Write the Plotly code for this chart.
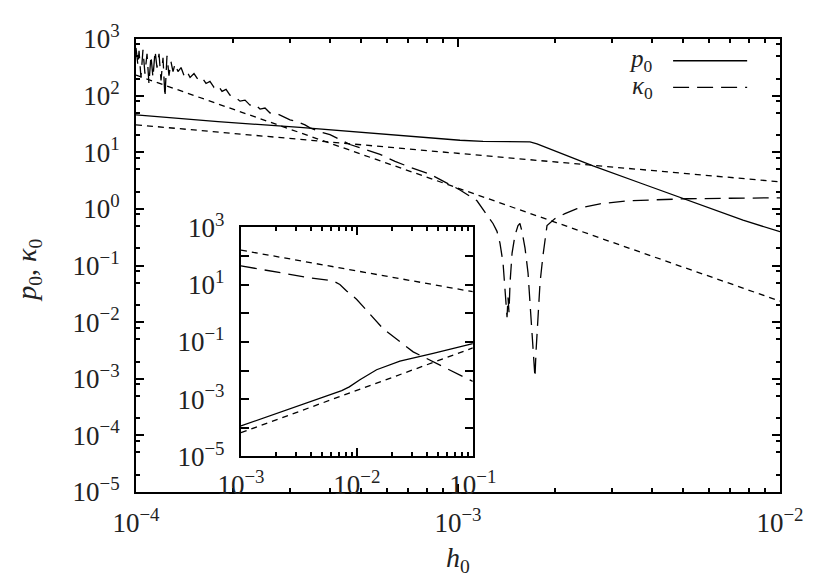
import plotly.graph_objects as go

# main panel: p0 (solid) and kappa0 (long dash) against h0
h_p0 = [1.0e-4, 1.798e-4, 3.231e-4, 7.095e-4, 1.0144e-3, 1.196e-3, 1.673e-3,
        1.759e-3, 2.074e-3, 2.626e-3, 3.754e-3, 5.143e-3, 7.675e-3, 1.0e-2]
p0 = [45.6, 34.6, 27.6, 19.1, 16.3, 15.6, 15.2,
      14.1, 9.80, 5.73, 2.75, 1.45, 0.631, 0.396]

h_kappa = [1.000e-4, 1.014e-4, 1.022e-4, 1.036e-4, 1.051e-4, 1.066e-4, 1.082e-4,
           1.097e-4, 1.113e-4, 1.129e-4, 1.146e-4, 1.162e-4, 1.179e-4, 1.196e-4,
           1.213e-4, 1.230e-4, 1.248e-4, 1.266e-4, 1.284e-4, 1.303e-4, 1.322e-4,
           1.350e-4, 1.380e-4, 1.410e-4, 1.440e-4, 1.472e-4, 1.514e-4, 1.557e-4,
           1.603e-4, 1.650e-4, 1.697e-4, 1.747e-4, 1.798e-4, 1.850e-4, 1.904e-4,
           1.958e-4, 2.030e-4, 2.104e-4, 2.181e-4, 2.259e-4, 2.342e-4, 2.428e-4,
           2.516e-4, 2.608e-4, 2.703e-4, 2.801e-4, 2.903e-4, 3.008e-4, 3.118e-4,
           3.231e-4, 3.348e-4, 3.470e-4, 3.728e-4, 4.004e-4, 4.300e-4, 4.619e-4,
           5.143e-4, 5.727e-4, 6.374e-4, 7.095e-4, 8.185e-4, 9.113e-4, 1.0144e-3,
           1.1455e-3, 1.2844e-3, 1.3216e-3, 1.350e-3, 1.380e-3, 1.400e-3, 1.420e-3,
           1.430e-3, 1.440e-3, 1.451e-3, 1.472e-3, 1.503e-3, 1.536e-3, 1.557e-3,
           1.580e-3, 1.615e-3, 1.650e-3, 1.673e-3, 1.697e-3, 1.722e-3, 1.734e-3,
           1.747e-3, 1.772e-3, 1.798e-3, 1.837e-3, 1.890e-3, 2.001e-3, 2.149e-3,
           2.342e-3, 2.761e-3, 3.348e-3, 4.240e-3, 5.143e-3, 6.995e-3, 1.0e-2]
kappa = [697, 339, 618, 209, 643, 245, 548,
         164, 506, 209, 618, 313, 548, 185,
         467, 93.8, 506, 226, 397, 266, 366,
         266, 313, 226, 266, 209, 245, 193,
         209, 164, 178, 140, 152, 119, 129,
         102, 93.8, 79.9, 83.2, 68.0, 70.0, 57.9,
         60.3, 49.3, 50.0, 45.6, 42.1, 37.3, 35.8,
         33.0, 30.5, 27.0, 23.0, 20.4, 16.7, 13.7,
         11.2, 9.16, 6.92, 5.43, 4.10, 2.98, 2.16,
         1.39, 0.552, 0.401, 0.248, 0.111, 0.0407, 0.0122,
         0.0273, 0.0149, 0.0498, 0.166, 0.341, 0.509, 0.552,
         0.401, 0.203, 0.0743, 0.0223, 6.7e-3, 2.01e-3, 1.06e-3,
         3.0e-3, 0.0149, 0.0498, 0.153, 0.509, 0.674, 0.824,
         1.01, 1.23, 1.39, 1.45, 1.51, 1.54, 1.57]

# short-dashed guide lines in the main panel
h_ref = [1.0e-4, 1.0e-2]
ref_a = [30.5, 3.0]
ref_b = [230.0, 0.0235]

# inset panel
h_in_guide = [1.0e-3, 1.0e-1]
in_guide_top = [161.0, 5.7]
in_guide_low = [6.76e-5, 0.0617]

h_in_dash = [1.0e-3, 3.94e-3, 6.21e-3, 7.13e-3, 8.15e-3, 9.93e-3, 1.687e-2, 3.06e-2, 1.0e-1]
in_dash = [45.2, 17.4, 13.7, 10.2, 6.05, 3.11, 0.288, 0.0452, 4.18e-3]

h_in_solid = [1.0e-3, 6.25e-3, 7.4e-3, 8.6e-3, 1.062e-2, 1.479e-2, 2.35e-2, 4.55e-2, 1.0e-1]
in_solid = [1.17e-4, 1.66e-3, 2.0e-3, 2.7e-3, 4.79e-3, 1.07e-2, 2.14e-2, 3.98e-2, 0.087]

main_y_exp = [3, 2, 1, 0, -1, -2, -3, -4, -5]
main_x_exp = [-4, -3, -2]
inset_y_exp = [3, 2, 1, 0, -1, -2, -3, -4, -5]
inset_x_exp = [-3, -2, -1]

FONT = "Liberation Serif"
TEXT_COLOR = "#222"
SHORT_DASH = "6px,5px"
LONG_DASH = "16px,8px"


def pow_label(e):
    return "10<sup>" + str(e).replace("-", "\u2212") + "</sup>"


def minor_vals(exps, mult):
    lo, hi = min(exps), max(exps)
    return [m * 10.0 ** e for e in range(lo, hi) for m in mult]


fig = go.Figure()


def add_line(x, y, dash, xaxis="x", yaxis="y"):
    fig.add_trace(
        go.Scatter(
            x=x,
            y=y,
            mode="lines",
            line=dict(color="black", width=1.3, dash=dash),
            showlegend=False,
            xaxis=xaxis,
            yaxis=yaxis,
        )
    )


add_line(h_ref, ref_a, SHORT_DASH)
add_line(h_ref, ref_b, SHORT_DASH)
add_line(h_p0, p0, "solid")
add_line(h_kappa, kappa, LONG_DASH)

add_line(h_in_guide, in_guide_top, SHORT_DASH, "x2", "y2")
add_line(h_in_guide, in_guide_low, SHORT_DASH, "x2", "y2")
add_line(h_in_dash, in_dash, LONG_DASH, "x2", "y2")
add_line(h_in_solid, in_solid, "solid", "x2", "y2")

axis_common = dict(
    type="log",
    showline=True,
    linecolor="black",
    linewidth=2,
    mirror="ticks",
    ticks="inside",
    ticklen=8,
    tickwidth=1.5,
    tickcolor="black",
    showgrid=False,
    zeroline=False,
    tickfont=dict(family=FONT, size=27, color=TEXT_COLOR),
)
minor_style = dict(ticklen=4, tickwidth=1.5, tickcolor="black", ticks="inside")

# the page body adds an 8px offset, so margins are shifted to compensate
fig.update_layout(
    width=830,
    height=581,
    plot_bgcolor="white",
    paper_bgcolor="white",
    margin=dict(l=128, r=58, t=25, b=97),
    xaxis=dict(
        axis_common,
        range=[-4, -2],
        tickvals=[10.0 ** e for e in main_x_exp],
        ticktext=[pow_label(e) for e in main_x_exp],
        minor=dict(minor_style, tickvals=minor_vals(main_x_exp, range(2, 10))),
        ticklabelstandoff=6,
    ),
    yaxis=dict(
        axis_common,
        range=[-5, 3],
        tickvals=[10.0 ** e for e in main_y_exp],
        ticktext=[pow_label(e) for e in main_y_exp],
        minor=dict(minor_style, tickvals=minor_vals(main_y_exp, [2, 5, 8])),
        ticklabelstandoff=9,
    ),
    xaxis2=dict(
        axis_common,
        domain=[0.163, 0.523],
        anchor="y2",
        range=[-3, -1],
        tickvals=[10.0 ** e for e in inset_x_exp],
        ticktext=[pow_label(e) for e in inset_x_exp],
        minor=dict(minor_style, tickvals=minor_vals(inset_x_exp, range(2, 10))),
        ticklabelstandoff=3,
    ),
    yaxis2=dict(
        axis_common,
        domain=[0.0784, 0.584],
        anchor="x2",
        range=[-5, 3],
        tickvals=[10.0 ** e for e in inset_y_exp],
        ticktext=[pow_label(e) if e % 2 else "" for e in inset_y_exp],
        ticklabelstandoff=9,
    ),
)

# axis titles
fig.add_annotation(
    xref="paper", yref="paper", x=-0.168, y=0.49,
    xanchor="center", yanchor="middle",
    text="<i>p</i><sub>0</sub>, <i>\u03ba</i><sub>0</sub>",
    textangle=-90, showarrow=False,
    font=dict(family=FONT, size=28, color=TEXT_COLOR),
)
fig.add_annotation(
    xref="paper", yref="paper", x=0.5, y=-0.148,
    xanchor="center", yanchor="middle",
    text="<i>h</i><sub>0</sub>",
    showarrow=False,
    font=dict(family=FONT, size=28, color=TEXT_COLOR),
)

# gnuplot-style key: label first, sample line after
legend_items = [("<i>p</i><sub>0</sub>", "solid", 0.952),
                ("<i>\u03ba</i><sub>0</sub>", LONG_DASH, 0.893)]
for label, dash, yk in legend_items:
    fig.add_annotation(
        xref="paper", yref="paper", x=0.806, y=yk,
        xanchor="right", yanchor="middle",
        text=label, showarrow=False,
        font=dict(family=FONT, size=25, color=TEXT_COLOR),
    )
    fig.add_shape(
        type="line", xref="paper", yref="paper",
        x0=0.834, x1=0.949, y0=yk, y1=yk,
        line=dict(color="black", width=1.3, dash=dash),
    )

fig.write_html("out.html")
